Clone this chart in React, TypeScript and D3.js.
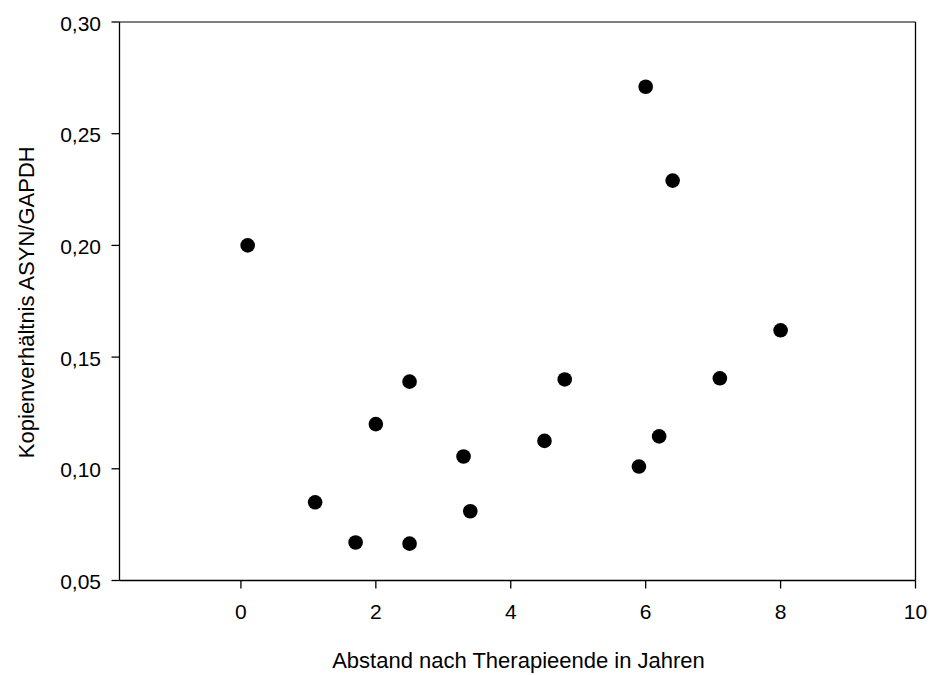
import React from "react";
import * as d3 from "d3";

const years = [0.1, 1.1, 1.7, 2.0, 2.5, 2.5, 3.3, 3.4, 4.5, 4.8, 5.9, 6.0, 6.2, 6.4, 7.1, 8.0];
const ratios = [0.200, 0.085, 0.067, 0.120, 0.139, 0.0665, 0.1055, 0.081, 0.1125, 0.140, 0.101, 0.271, 0.1145, 0.229, 0.1405, 0.162];
const xTicks = [0, 2, 4, 6, 8, 10];
const yTicks = [0.05, 0.10, 0.15, 0.20, 0.25, 0.30];

const W = 931;
const H = 675;
const left = 119.5;
const right = 915.5;
const top = 22;
const bottom = 580.5;

export default function App() {
  const x = d3.scaleLinear().domain([-1.8, 10]).range([left, right]);
  const y = d3.scaleLinear().domain([0.05, 0.3]).range([bottom, top]);
  const fmt = (v: number) => v.toFixed(2).replace(".", ",");
  const font = "'Liberation Sans', Arial, sans-serif";
  const narrow = "'Liberation Sans Narrow', 'Arial Narrow', 'Liberation Sans', sans-serif";
  return (
    <svg width={W} height={H} style={{ position: "absolute", left: 0, top: 0, background: "#fff" }}>
      <line x1={left} x2={right} y1={top} y2={top} stroke="#555" strokeWidth={1.3} />
      <line x1={right} x2={right} y1={top} y2={bottom} stroke="#000" strokeWidth={1.3} />
      <line x1={left} x2={left} y1={top} y2={bottom} stroke="#000" strokeWidth={1.3} />
      <line x1={left} x2={right} y1={bottom} y2={bottom} stroke="#000" strokeWidth={1.3} />
      {xTicks.map((t) => (
        <g key={"x" + t}>
          <line x1={x(t)} x2={x(t)} y1={bottom} y2={bottom + 8} stroke="#000" strokeWidth={1.3} />
          <text x={x(t)} y={bottom + 38.5} textAnchor="middle" fontFamily={font} fontSize={21}>{t}</text>
        </g>
      ))}
      {yTicks.map((t) => (
        <g key={"y" + t}>
          <line x1={left - 8} x2={left} y1={y(t)} y2={y(t)} stroke="#000" strokeWidth={1.3} />
          <text x={left - 18.5} y={y(t) + 8.5} textAnchor="end" fontFamily={font} fontSize={21}>{fmt(t)}</text>
        </g>
      ))}
      {years.map((v, i) => (
        <circle key={i} cx={x(v)} cy={y(ratios[i])} r={7.3} fill="#000" />
      ))}
      <text x={(left + right) / 2 + 1} y={668} textAnchor="middle" fontFamily={narrow} fontSize={22}>
        Abstand nach Therapieende in Jahren
      </text>
      <text transform={`translate(34, ${(top + bottom) / 2 + 1}) rotate(-90)`} textAnchor="middle" fontFamily={narrow} fontSize={22}>
        Kopienverhältnis ASYN/GAPDH
      </text>
    </svg>
  );
}
